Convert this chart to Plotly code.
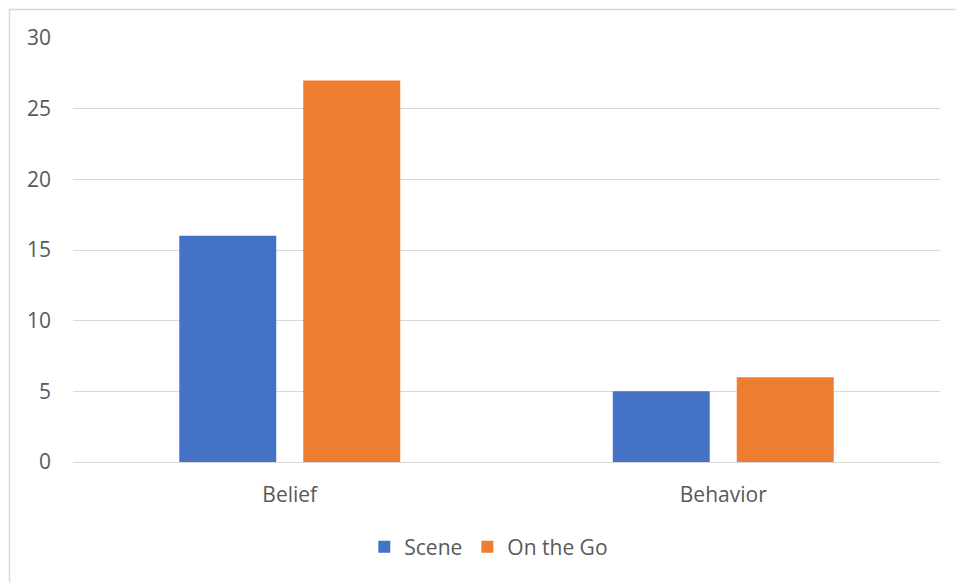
import plotly.graph_objects as go

# Survey counts by category
categories = ["Belief", "Behavior"]
scene_values = [16, 5]
on_the_go_values = [27, 6]
y_ticks = [0, 5, 10, 15, 20, 25, 30]

W, H = 956, 582
L, R, T, B = 73, 16, 38, 120
plot_w = W - L - R
plot_h = H - T - B

text_color = "#595959"
grid_color = "#d9d9d9"
font_family = "Open Sans, Liberation Sans, sans-serif"
font_size = 21

fig = go.Figure()
fig.add_trace(go.Bar(name="Scene", x=categories, y=scene_values,
                     marker=dict(color="#4472c4", line=dict(width=0))))
fig.add_trace(go.Bar(name="On the Go", x=categories, y=on_the_go_values,
                     marker=dict(color="#ed7d31", line=dict(width=0))))


# helpers converting page pixels to paper coordinates
def px_x(p):
    return (p - L) / plot_w


def px_y(p):
    return (H - B - p) / plot_h


# outer chart frame (left and top edges visible, rest runs off the page)
fig.add_shape(type="rect", xref="paper", yref="paper",
              x0=px_x(9.5), x1=px_x(W + 20), y0=px_y(H + 20), y1=px_y(9.5),
              line=dict(color=grid_color, width=1.5), fillcolor="rgba(0,0,0,0)",
              layer="below")

fig.update_layout(
    width=W, height=H,
    margin=dict(l=L, r=R, t=T, b=B, pad=0),
    paper_bgcolor="white", plot_bgcolor="white",
    font=dict(family=font_family, size=font_size, color=text_color),
    barmode="group",
    bargap=0.428,
    bargroupgap=0.218,
    showlegend=True,
    legend=dict(orientation="h", x=px_x(494) - 0.006, xanchor="center",
                y=px_y(547), yanchor="middle",
                font=dict(size=font_size, color=text_color),
                itemwidth=30, traceorder="normal"),
    xaxis=dict(showgrid=False, showline=True, linecolor=grid_color, linewidth=1,
               ticks="", ticklabelstandoff=14,
               tickfont=dict(size=font_size, color=text_color)),
    yaxis=dict(range=[0, 30], tickvals=y_ticks, showgrid=True, gridcolor=grid_color,
               gridwidth=1, zeroline=False, showline=False, ticks="",
               ticklabelstandoff=21, tickfont=dict(size=font_size, color=text_color)),
)

fig.write_html("out.html")
